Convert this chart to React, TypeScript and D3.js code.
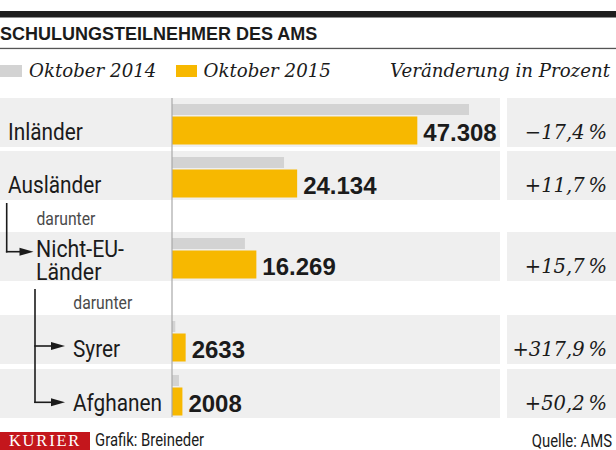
import React from "react";
import * as d3 from "d3";

const categories = ["Inländer", "Ausländer", "Nicht-EU-|Länder", "Syrer", "Afghanen"];
const values2014 = [57274, 21606, 14061, 630, 1337];
const values2015 = [47308, 24134, 16269, 2633, 2008];
const valueLabels = ["47.308", "24.134", "16.269", "2633", "2008"];
const changeLabels = ["\u221217,4\u2009%", "+11,7\u2009%", "+15,7\u2009%", "+317,9\u2009%", "+50,2\u2009%"];
const legendLabels = ["Oktober 2014", "Oktober 2015"];

const W = 616;
const H = 450;
const rowTops = [98, 151, 232, 315, 369];
const rowH = 49;
const narrow = "Roboto, 'Liberation Sans', sans-serif";
const sans = "'Liberation Sans', Arial, sans-serif";
const serifIt = "'DejaVu Serif', serif";
const GRAY_BG = "#efefef";
const GRAY_BAR = "#d3d3d3";
const YELLOW = "#f7b800";
const INK = "#1b1b1b";

function NText({ x, y, size, sx = 0.85, fill = INK, anchor = "start", children }: any) {
  return (
    <text
      transform={`translate(${x},${y}) scale(${sx},1)`}
      fontFamily={narrow}
      fontSize={size}
      fill={fill}
      textAnchor={anchor}
    >
      {children}
    </text>
  );
}

function Arrow({ x1, x2, y }: { x1: number; x2: number; y: number }) {
  return (
    <g>
      <line x1={x1} x2={x2 - 12} y1={y} y2={y} stroke={INK} strokeWidth={1.6} />
      <path d={`M${x2 - 14},${y - 4} L${x2},${y} L${x2 - 14},${y + 4} Z`} fill={INK} />
    </g>
  );
}

export default function App() {
  const x = d3.scaleLinear().domain([0, 57274]).range([172, 469]);
  return (
    <svg width={W} height={H} style={{ position: "absolute", left: 0, top: 0, background: "#fff" }}>
      <rect x={0} y={0} width={W} height={H} fill="#fff" />
      <rect x={0} y={11} width={W} height={6.5} fill="#1e1e1e" />
      <text x={0} y={39.5} fontFamily={sans} fontWeight="bold" fontSize={18} fill={INK}>
        SCHULUNGSTEILNEHMER DES AMS
      </text>
      <rect x={0} y={47.8} width={W} height={1.3} fill="#555" />
      {/* legend */}
      <rect x={0} y={65} width={22} height={12} fill={GRAY_BAR} />
      <text x={29} y={77.3} fontFamily={serifIt} fontStyle="italic" fontSize={18.2} fill={INK}>
        {legendLabels[0]}
      </text>
      <rect x={176} y={65} width={21} height={12} fill={YELLOW} />
      <text x={203.5} y={77.3} fontFamily={serifIt} fontStyle="italic" fontSize={18.2} fill={INK}>
        {legendLabels[1]}
      </text>
      <text x={610} y={77.3} textAnchor="end" fontFamily={serifIt} fontStyle="italic" fontSize={18.2} fill={INK}>
        Veränderung in Prozent
      </text>

      {categories.map((c, i) => {
        const t = rowTops[i];
        const lines = c.split("|");
        const labelX = i >= 3 ? 73 : i === 2 ? 36 : 8;
        return (
          <g key={c}>
            <rect x={0} y={t} width={500} height={rowH} fill={GRAY_BG} />
            <rect x={507} y={t} width={W - 507} height={rowH} fill={GRAY_BG} />
            <rect x={x(0)} y={t + 6} width={x(values2014[i]) - x(0)} height={11} fill={GRAY_BAR} />
            <rect x={x(0)} y={t + 18.5} width={x(values2015[i]) - x(0)} height={28} fill={YELLOW} />
            {lines.length === 1 ? (
              <NText x={labelX} y={t + 42} size={24.5}>{lines[0]}</NText>
            ) : (
              <g>
                <NText x={labelX} y={t + 24.5} size={24.5} sx={0.87}>{lines[0]}</NText>
                <NText x={labelX} y={t + 47.5} size={24.5} sx={0.87}>{lines[1]}</NText>
              </g>
            )}
            <text x={x(values2015[i]) + 6} y={t + 43} fontFamily={sans} fontWeight="bold" fontSize={24} fill={INK}>
              {valueLabels[i]}
            </text>
            <text x={607} y={t + 41} textAnchor="end" fontFamily={serifIt} fontStyle="italic" fontSize={19.5} fill={INK}>
              {changeLabels[i]}
            </text>
          </g>
        );
      })}

      <line x1={x(0)} x2={x(0)} y1={98} y2={417} stroke="#a8a8a8" strokeWidth={1.2} />

      {/* darunter labels */}
      <NText x={36.5} y={225} size={17.5} sx={0.9} fill="#4a4a4a">darunter</NText>
      <NText x={73.3} y={309} size={17.5} sx={0.9} fill="#4a4a4a">darunter</NText>

      {/* connectors */}
      <line x1={6.7} x2={6.7} y1={203} y2={252.5} stroke={INK} strokeWidth={1.6} />
      <Arrow x1={5.9} x2={33.5} y={251.7} />
      <line x1={35} x2={35} y1={289} y2={403} stroke={INK} strokeWidth={1.6} />
      <Arrow x1={34.2} x2={65} y={346} />
      <Arrow x1={34.2} x2={65} y={402.3} />

      {/* footer */}
      <rect x={0} y={432} width={90} height={18} fill="#c4161c" />
      <text x={45} y={446} textAnchor="middle" fontFamily="'Liberation Serif', serif" fontSize={16.5} letterSpacing={1.8} fill="#fff">
        KURIER
      </text>
      <NText x={95} y={446} size={17.5}>Grafik: Breineder</NText>
      <NText x={612} y={446.5} size={17.5} anchor="end">Quelle: AMS</NText>
    </svg>
  );
}
